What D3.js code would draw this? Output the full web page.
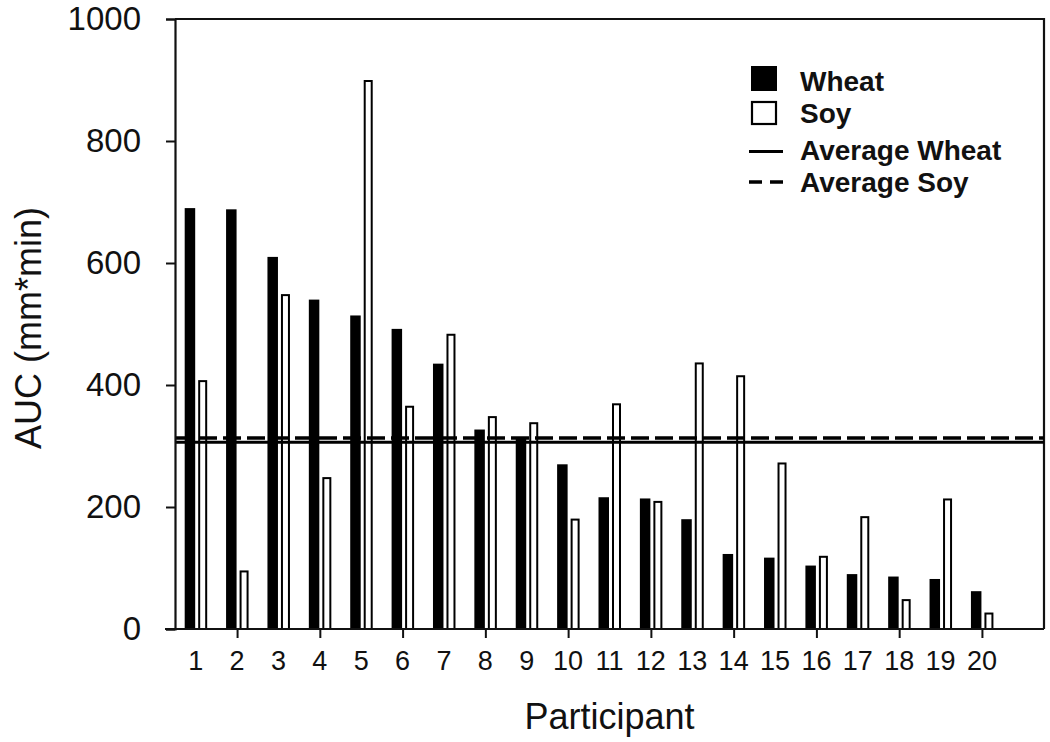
<!DOCTYPE html>
<html>
<head>
<meta charset="utf-8">
<script src="https://cdn.jsdelivr.net/npm/d3@7"></script>
<style>
  html, body { margin: 0; padding: 0; background: #fff; }
  svg { display: block; font-family: Arial, "Liberation Sans", Helvetica, sans-serif; }
</style>
</head>
<body>
<svg id="chart" width="1050" height="742"></svg>
<script>
// ---- data ----
const participants = [1,2,3,4,5,6,7,8,9,10,11,12,13,14,15,16,17,18,19,20];
const wheat = [690,688,610,540,514,492,435,327,312,270,216,214,180,123,117,104,90,86,82,62];
const soy   = [408,96,549,249,900,366,484,349,339,181,370,210,437,416,273,120,185,49,214,27];
const avgWheat = 306;
const avgSoy = 313;
const yTicks = [0,200,400,600,800,1000];
const xTicks = [2,4,6,8,10,12,14,16,18,20];
const legendItems = ["Wheat","Soy","Average Wheat","Average Soy"];
const yTitle = "AUC (mm*min)";
const xTitle = "Participant";

// ---- layout ----
const svg = d3.select("#chart");
const pLeft = 175, pRight = 1044, pTop = 19, pBottom = 629;

const x = d3.scaleLinear().domain([0.5, 21.5]).range([pLeft, pRight]);
const y = d3.scaleLinear().domain([0, 1000]).range([pBottom, pTop]);

// frame (top and right)
svg.append("path")
  .attr("d", `M${pLeft},${pTop}H${pRight}V${pBottom}`)
  .attr("fill", "none").attr("stroke", "#111").attr("stroke-width", 2.2);

// bars
const wheatW = 10.5, soyW = 9, gap = 2.5;
svg.append("g").selectAll("rect").data(participants).join("rect")
  .attr("x", (d) => x(d) - wheatW - 0.5)
  .attr("width", wheatW)
  .attr("y", (d, i) => y(wheat[i]))
  .attr("height", (d, i) => y(0) - y(wheat[i]))
  .attr("fill", "#000");

svg.append("g").selectAll("rect").data(participants).join("rect")
  .attr("x", (d) => x(d) + gap + 1)
  .attr("width", soyW - 2)
  .attr("y", (d, i) => y(soy[i]) + 1)
  .attr("height", (d, i) => y(0) - y(soy[i]) - 1)
  .attr("fill", "#fff").attr("stroke", "#000").attr("stroke-width", 2);

// average lines
svg.append("line")
  .attr("x1", pLeft).attr("x2", pRight)
  .attr("y1", y(avgWheat)).attr("y2", y(avgWheat))
  .attr("stroke", "#000").attr("stroke-width", 3);
svg.append("line")
  .attr("x1", pLeft).attr("x2", pRight)
  .attr("y1", y(avgSoy)).attr("y2", y(avgSoy))
  .attr("stroke", "#000").attr("stroke-width", 3.5)
  .attr("stroke-dasharray", "18,6");

// y axis
const yAxis = svg.append("g")
  .attr("transform", `translate(${pLeft},0)`)
  .call(d3.axisLeft(y).tickValues(yTicks).tickFormat(d3.format("d")).tickSize(9).tickPadding(25));
yAxis.select(".domain").attr("stroke", "#111").attr("stroke-width", 2.2);
yAxis.selectAll(".tick line").attr("stroke", "#111").attr("stroke-width", 2);
yAxis.selectAll(".tick text")
  .attr("font-size", 33).attr("fill", "#111")
  .attr("font-family", "Arial, 'Liberation Sans', sans-serif");

// x axis
const xAxis = svg.append("g")
  .attr("transform", `translate(0,${pBottom})`)
  .call(d3.axisBottom(x).tickValues(xTicks).tickSize(9).tickFormat(() => ""));
xAxis.select(".domain").remove();
xAxis.selectAll(".tick line").attr("stroke", "#111").attr("stroke-width", 2);
svg.append("line")
  .attr("x1", pLeft - 10).attr("x2", pRight)
  .attr("y1", pBottom).attr("y2", pBottom)
  .attr("stroke", "#111").attr("stroke-width", 2.2);

svg.append("g").selectAll("text").data(participants).join("text")
  .attr("x", (d) => x(d))
  .attr("y", 670)
  .attr("text-anchor", "middle")
  .attr("font-size", 27)
  .attr("fill", "#111")
  .text((d) => d);

// axis titles
svg.append("text")
  .attr("transform", `translate(41,${(pTop + pBottom) / 2 + 4}) rotate(-90)`)
  .attr("text-anchor", "middle")
  .attr("font-size", 36)
  .attr("fill", "#111")
  .text(yTitle);

svg.append("text")
  .attr("x", (pLeft + pRight) / 2)
  .attr("y", 729)
  .attr("text-anchor", "middle")
  .attr("font-size", 36)
  .attr("fill", "#111")
  .text(xTitle);

// legend
const lg = svg.append("g");
const lx = 751, textX = 800, rows = [91, 123, 160, 192];
lg.append("rect").attr("x", lx).attr("y", 66).attr("width", 26).attr("height", 25).attr("fill", "#000");
lg.append("rect").attr("x", lx + 1).attr("y", 102).attr("width", 24).attr("height", 22)
  .attr("fill", "#fff").attr("stroke", "#000").attr("stroke-width", 2.2);
lg.append("line").attr("x1", 749).attr("x2", 783).attr("y1", 151.5).attr("y2", 151.5)
  .attr("stroke", "#000").attr("stroke-width", 3);
lg.append("line").attr("x1", 749).attr("x2", 783).attr("y1", 182).attr("y2", 182)
  .attr("stroke", "#000").attr("stroke-width", 3.5).attr("stroke-dasharray", "13,8");
lg.selectAll("text").data(legendItems).join("text")
  .attr("x", textX)
  .attr("y", (d, i) => rows[i])
  .attr("font-size", 28)
  .attr("font-weight", "bold")
  .attr("fill", "#111")
  .text((d) => d);
</script>
</body>
</html>
